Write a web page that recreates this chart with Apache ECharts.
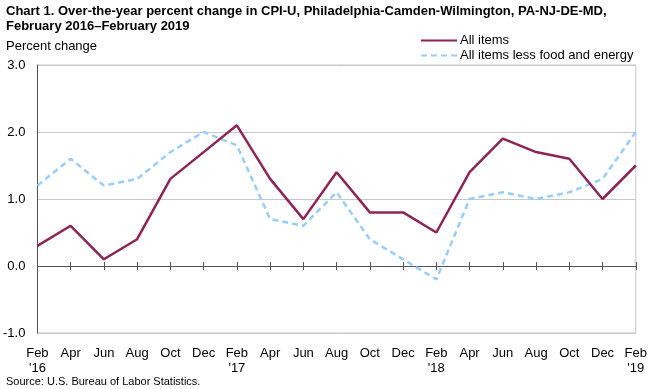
<!DOCTYPE html>
<html><head><meta charset="utf-8">
<script src="https://cdn.jsdelivr.net/npm/echarts@6/dist/echarts.min.js"></script>
<style>html,body{margin:0;padding:0;background:#fff}#c{width:650px;height:389px}</style>
</head><body><div id="c"></div>
<script>
var categories = ["Feb\n'16","Apr","Jun","Aug","Oct","Dec","Feb\n'17","Apr","Jun","Aug","Oct","Dec","Feb\n'18","Apr","Jun","Aug","Oct","Dec","Feb\n'19"];
var allItems = [0.3,0.6,0.1,0.4,1.3,1.7,2.1,1.3,0.7,1.4,0.8,0.8,0.5,1.4,1.9,1.7,1.6,1.0,1.5];
var coreItems = [1.2,1.6,1.2,1.3,1.7,2.0,1.8,0.7,0.6,1.1,0.4,0.1,-0.2,1.0,1.1,1.0,1.1,1.3,2.0];
var seriesNames = ["All items","All items less food and energy"];
var yTicks = {min:-1, max:3, interval:1};

var font = "'Liberation Sans', Arial, sans-serif";
var chart = echarts.init(document.getElementById('c'), null, {renderer:'canvas'});
var hiddenAxisBase = {type:'category', data:categories, boundaryGap:false, position:'bottom', axisLabel:{show:false}, splitLine:{show:false}};
chart.setOption({
  animation:false,
  textStyle:{fontFamily:font},
  title:[
    {text:'Chart 1. Over-the-year percent change in CPI-U, Philadelphia-Camden-Wilmington, PA-NJ-DE-MD,\nFebruary 2016\u2013February 2019', left:1, top:-1, textStyle:{fontFamily:font, fontSize:13, fontWeight:'bold', color:'#000', lineHeight:15}},
    {text:'Percent change', left:1, top:35, textStyle:{fontFamily:font, fontSize:13, fontWeight:'normal', color:'#000'}},
    {text:'Source: U.S. Bureau of Labor Statistics.', left:1, top:371, textStyle:{fontFamily:font, fontSize:11, fontWeight:'normal', color:'#000'}}
  ],
  legend:{orient:'vertical', left:415, top:28, itemWidth:36, itemHeight:10, itemGap:0,
    itemStyle:{opacity:0, color:'rgba(0,0,0,0)', borderWidth:0},
    textStyle:{fontFamily:font, fontSize:13, color:'#000', padding:[0,0,0,-2], lineHeight:15}, data:seriesNames},
  grid:{left:35, right:12, top:65, bottom:56, show:true, borderColor:'#c8c8c8', borderWidth:1},
  xAxis:[
    {type:'category', data:categories, boundaryGap:false, position:'bottom',
     axisLine:{onZero:false, show:false}, axisTick:{show:false},
     axisLabel:{color:'#000', fontSize:13, fontFamily:font, margin:13, lineHeight:15, interval:0}, splitLine:{show:false}},
    Object.assign({}, hiddenAxisBase, {axisLine:{show:true, onZero:true, onZeroAxisIndex:0, lineStyle:{color:'#555', width:1}}, axisTick:{show:true, inside:true, length:4, interval:0, lineStyle:{color:'#555'}}}),
    Object.assign({}, hiddenAxisBase, {axisLine:{show:true, onZero:true, onZeroAxisIndex:1, lineStyle:{color:'#555', width:1}}, axisTick:{show:true, inside:false, length:4, interval:0, lineStyle:{color:'#555'}}})
  ],
  yAxis:[
    {type:'value', min:yTicks.min, max:yTicks.max, interval:yTicks.interval,
    axisLine:{show:true, lineStyle:{color:'#555'}}, axisTick:{show:false},
    axisLabel:{color:'#000', fontSize:13, fontFamily:font, margin:12, formatter:function(v){return v.toFixed(1);}},
    splitLine:{show:true, lineStyle:{color:'#c8c8c8', width:1}}},
    {type:'value', min:yTicks.min, max:yTicks.max, interval:yTicks.interval, position:'left',
    axisLine:{show:false}, axisTick:{show:false}, axisLabel:{show:false}, splitLine:{show:false}}
  ],
  series:[
    {name:seriesNames[0], type:'line', data:allItems, symbol:'none', lineStyle:{color:'#8e2356', width:2.5}, itemStyle:{color:'#8e2356'}, z:3},
    {name:seriesNames[1], type:'line', data:coreItems, symbol:'none', lineStyle:{color:'#99ccff', width:2.5, type:[6,4]}, itemStyle:{color:'#99ccff'}, z:2}
  ]
});
</script></body></html>
